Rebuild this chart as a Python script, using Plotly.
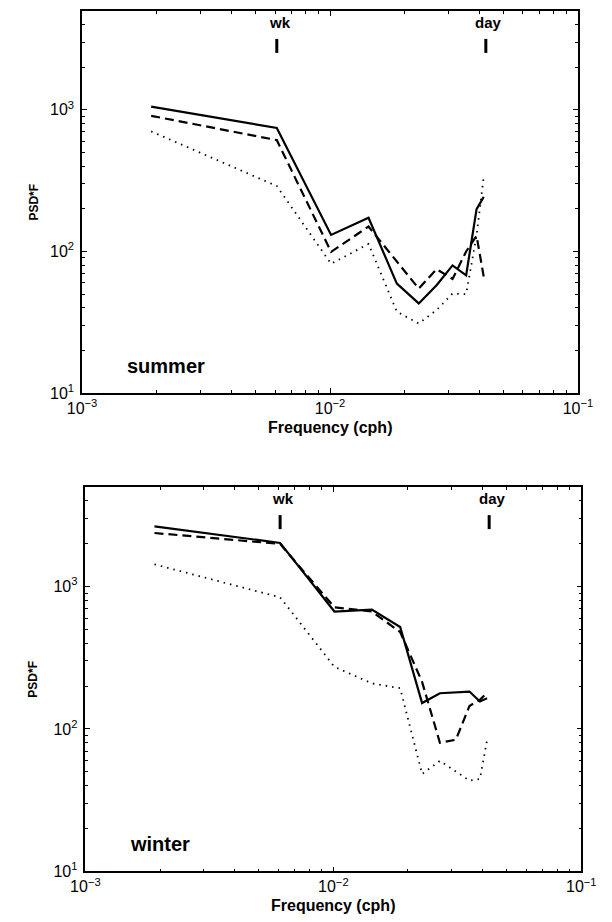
import math
import plotly.graph_objects as go

# ---- data ----
freq = [0.0019, 0.0061, 0.0101, 0.0143, 0.0186, 0.0228, 0.0269, 0.0312, 0.0354, 0.0390, 0.0417]

summer_solid = [1055, 745, 131, 173, 59.3, 43.0, 57.8, 79.8, 67.9, 199, 243]
summer_dashed = [908, 612, 99.5, 150, 85, 54.7, 75, 64, 100, 129, 66]
summer_dotted = [705, 290, 81.9, 113, 37.6, 31.0, 38.6, 50.5, 50, 130, 341]

winter_solid = [2641, 2022, 667, 689, 519, 152, 178, 181, 183, 156, 164]
winter_dashed = [2373, 1990, 714, 667, 479, 214, 80, 84, 145, 160, 180]
winter_dotted = [1430, 839, 273, 209, 193, 48.3, 59.7, 50, 43.4, 44.5, 84]

period_freq = [0.0061, 0.0425]
period_labels = ["wk", "day"]
period_mark_y = 2830
period_text_y = 4150

season_labels = ["summer", "winter"]
season_label_x = 0.00150
season_label_y = 15.5

x_tickvals = [1e-3, 1e-2, 1e-1]
x_ticktext = ["10<sup>\u22123</sup>", "10<sup>\u22122</sup>", "10<sup>\u22121</sup>"]
y_tickvals = [1e1, 1e2, 1e3]
y_ticktext = ["10<sup>1</sup>", "10<sup>2</sup>", "10<sup>3</sup>"]

FONT = "Liberation Sans"
W, H = 612, 922

x_minor = [m * 10.0 ** e for e in (-3, -2) for m in range(2, 10)]
y_minor = [m * 10.0 ** e for e in (1, 2, 3) for m in range(2, 10) if m * 10.0 ** e <= 5000]

# panel boxes in pixels (left, right, top, bottom) and x-title centre offsets
boxes = [(70.5, 592.0, 11.0, 397.0), (74.0, 595.5, 491.7, 880.0)]
xtitle_gap = [35, 34]

fig = go.Figure()

panels = [
    (summer_solid, summer_dashed, summer_dotted),
    (winter_solid, winter_dashed, winter_dotted),
]

styles = [
    dict(dash="solid", width=2.2),
    dict(dash="9px,5px", width=2.2),
    dict(dash="1.5px,5px", width=1.8),
]

for i, series in enumerate(panels):
    xa = "x" if i == 0 else "x2"
    ya = "y" if i == 0 else "y2"
    for s, st in zip(series, styles):
        fig.add_trace(go.Scatter(
            x=freq, y=s, mode="lines", xaxis=xa, yaxis=ya,
            line=dict(color="black", width=st["width"], dash=st["dash"]),
            showlegend=False, hoverinfo="skip"))
    fig.add_trace(go.Scatter(
        x=period_freq, y=[period_mark_y] * len(period_freq), mode="markers",
        xaxis=xa, yaxis=ya,
        marker=dict(symbol="line-ns", size=10, line=dict(color="black", width=3)),
        showlegend=False, hoverinfo="skip"))

axis_common = dict(
    type="log", showgrid=False, zeroline=False, showline=True,
    linecolor="black", linewidth=1.5, mirror="allticks",
    ticks="inside", ticklen=5, tickwidth=1.2, tickcolor="black",
    tickfont=dict(family=FONT, size=16, color="black"),
)

annotations = []
for i, (l, r, t, b) in enumerate(boxes):
    sx = "" if i == 0 else "2"
    xd = [l / W, r / W]
    yd = [(H - b) / H, (H - t) / H]
    fig.update_layout(**{
        f"xaxis{sx}": dict(axis_common, domain=xd, range=[-3, -1],
                           anchor=f"y{sx}", tickvals=x_tickvals, ticktext=x_ticktext,
                           ticklabelstandoff=0,
                           minor=dict(ticks="inside", ticklen=3, tickvals=x_minor,
                                      tickcolor="black", tickwidth=1)),
        f"yaxis{sx}": dict(axis_common, domain=yd, range=[1, math.log10(5000)],
                           anchor=f"x{sx}", tickvals=y_tickvals, ticktext=y_ticktext,
                           ticklabelstandoff=3,
                           minor=dict(ticks="inside", ticklen=3, tickvals=y_minor,
                                      tickcolor="black", tickwidth=1)),
    })
    xr = f"x{sx}"
    yr = f"y{sx}"
    for pf, pl in zip(period_freq, period_labels):
        annotations.append(dict(
            x=math.log10(pf), y=math.log10(period_text_y), xref=xr, yref=yr,
            text=f"<b>{pl}</b>", showarrow=False, xshift=3,
            xanchor="center", yanchor="middle",
            font=dict(family=FONT, size=15, color="black")))
    annotations.append(dict(
        x=math.log10(season_label_x), y=math.log10(season_label_y), xref=xr, yref=yr,
        text=f"<b>{season_labels[i]}</b>", showarrow=False, xanchor="left",
        yanchor="middle", borderpad=0, font=dict(family=FONT, size=20, color="black")))
    # axis titles
    annotations.append(dict(
        x=(l + r) / 2 / W, y=(H - (b + xtitle_gap[i])) / H, xref="paper", yref="paper",
        text="<b>Frequency (cph)</b>", showarrow=False,
        xanchor="center", yanchor="middle", borderpad=0,
        font=dict(family=FONT, size=16, color="black")))
    annotations.append(dict(
        x=19.5 / W, y=(H - (t + b) / 2) / H, xref="paper", yref="paper",
        text="<b>PSD*F</b>", showarrow=False, textangle=-90,
        xanchor="center", yanchor="middle",
        font=dict(family=FONT, size=12, color="black")))

fig.update_layout(
    width=W, height=H, margin=dict(l=0, r=0, t=0, b=0),
    paper_bgcolor="white", plot_bgcolor="white",
    annotations=annotations, showlegend=False,
)

fig.write_html("out.html")
